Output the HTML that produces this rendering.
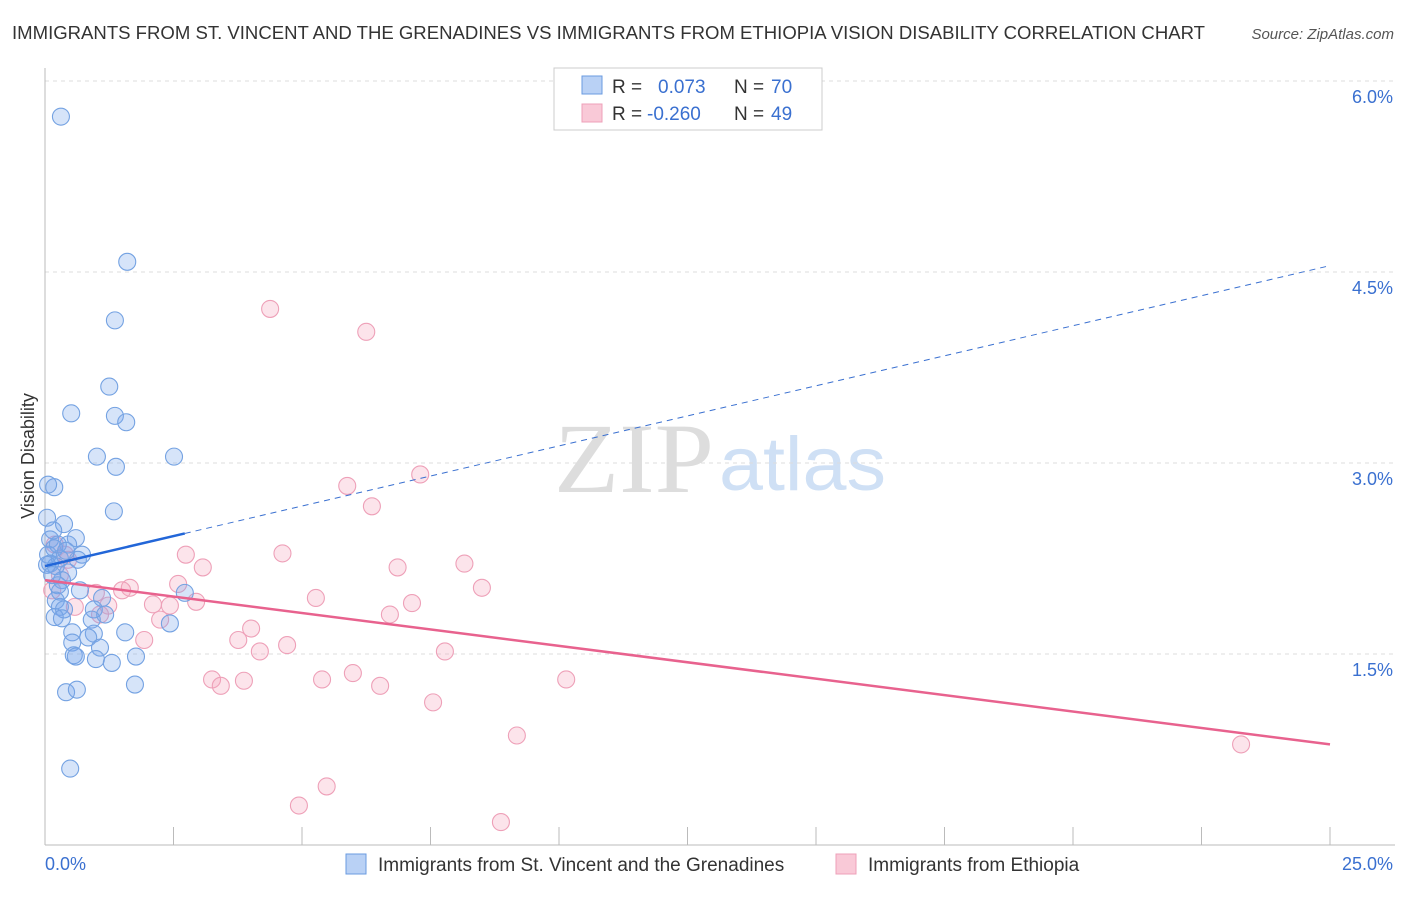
<!DOCTYPE html>
<html><head><meta charset="utf-8"><style>
body{margin:0;background:#fff;font-family:"Liberation Sans",sans-serif;}
svg text{font-family:"Liberation Sans",sans-serif;}
</style></head><body>
<svg id="c" width="1406" height="892">
<text x="12" y="39" font-size="18" fill="#333" textLength="1193" lengthAdjust="spacingAndGlyphs">IMMIGRANTS FROM ST. VINCENT AND THE GRENADINES VS IMMIGRANTS FROM ETHIOPIA VISION DISABILITY CORRELATION CHART</text>
<text x="1394" y="39" font-size="15" fill="#555" font-style="italic" text-anchor="end">Source: ZipAtlas.com</text>
<text x="714" y="492" font-size="100" fill="#ddd" text-anchor="end" textLength="160" lengthAdjust="spacingAndGlyphs" style="font-family:'Liberation Serif',serif">ZIP</text>
<text x="719" y="490" font-size="76" fill="#cfe0f5" textLength="167" lengthAdjust="spacingAndGlyphs">atlas</text>
<text transform="translate(34,456) rotate(-90)" font-size="18" fill="#333" text-anchor="middle">Vision Disability</text>
<g id="grid"></g><g id="marks"></g>
<g>
<rect x="554" y="68" width="268" height="62" fill="#fff" stroke="#ccc"/>
<rect x="582" y="76" width="20" height="18" fill="#b9d1f5" stroke="#6a9be0"/>
<rect x="582" y="104" width="20" height="18" fill="#f9c9d7" stroke="#eea0b8"/>
<text x="612" y="93" font-size="19" fill="#333">R = </text><text x="658" y="93" font-size="19" fill="#3a70d0">0.073</text>
<text x="734" y="93" font-size="19" fill="#333">N = </text><text x="771" y="93" font-size="19" fill="#3a70d0">70</text>
<text x="612" y="120" font-size="19" fill="#333">R = </text><text x="647" y="120" font-size="19" fill="#3a70d0">-0.260</text>
<text x="734" y="120" font-size="19" fill="#333">N = </text><text x="771" y="120" font-size="19" fill="#3a70d0">49</text>
</g>
<g>
<rect x="346" y="854" width="20" height="20" fill="#b9d1f5" stroke="#6a9be0"/>
<text x="378" y="871" font-size="19" fill="#333">Immigrants from St. Vincent and the Grenadines</text>
<rect x="836" y="854" width="20" height="20" fill="#f9c9d7" stroke="#eea0b8"/>
<text x="868" y="871" font-size="19" fill="#333">Immigrants from Ethiopia</text>
</g>
</svg>
<script>
const blueX=[0.31,1.60,1.36,1.25,0.51,1.36,1.58,1.01,2.51,1.38,0.18,0.06,1.34,0.04,0.37,0.16,0.60,0.10,0.45,0.18,0.72,0.06,0.29,0.64,0.10,0.21,0.45,0.33,0.25,0.68,0.29,0.21,1.11,2.72,0.95,0.29,0.37,1.17,0.19,0.33,0.91,2.43,0.53,0.95,1.56,0.84,0.53,1.07,0.56,0.60,0.99,1.77,1.30,1.75,0.41,0.62,0.49,0.04,0.14,0.25,0.41];
const blueY=[5.72,4.58,4.12,3.60,3.39,3.37,3.32,3.05,3.05,2.97,2.81,2.83,2.62,2.57,2.52,2.47,2.41,2.40,2.36,2.33,2.28,2.28,2.25,2.24,2.21,2.19,2.14,2.08,2.04,2.00,1.99,1.92,1.94,1.98,1.85,1.87,1.85,1.81,1.79,1.78,1.77,1.74,1.67,1.66,1.67,1.63,1.59,1.55,1.49,1.48,1.46,1.48,1.43,1.26,1.20,1.22,0.60,2.20,2.12,2.36,2.31];
const pinkX=[4.38,6.25,7.30,5.88,6.36,4.62,2.74,8.16,6.86,3.07,2.59,8.50,1.65,1.50,0.99,5.27,2.94,2.10,2.43,7.14,1.23,0.58,6.71,1.07,2.24,4.01,3.76,1.93,4.71,4.18,7.78,5.99,5.39,3.25,3.87,10.14,3.42,6.52,7.55,9.18,23.27,5.48,4.94,8.87,0.19,0.39,0.14,0.29,0.45];
const pinkY=[4.21,4.03,2.91,2.82,2.66,2.29,2.28,2.21,2.18,2.18,2.05,2.02,2.02,2.00,1.98,1.94,1.91,1.89,1.88,1.90,1.88,1.87,1.81,1.81,1.77,1.70,1.61,1.61,1.57,1.52,1.52,1.35,1.30,1.30,1.29,1.30,1.25,1.25,1.12,0.86,0.79,0.46,0.31,0.18,2.36,2.28,2.00,2.12,2.24];
const blueTrend=[2.19,4.55]; // y at x=0, x=25
const pinkTrend=[2.08,0.79];
const yTicks=[1.5,3.0,4.5,6.0];
const xTicks=[0,2.5,5,7.5,10,12.5,15,17.5,20,22.5,25];
const NS="http://www.w3.org/2000/svg";
const sx=v=>45+v/25*1285, sy=v=>845-v/1.5*191;
function mk(t,a,p){const e=document.createElementNS(NS,t);for(const k in a)e.setAttribute(k,a[k]);p.appendChild(e);return e;}
const grid=document.getElementById('grid'), marks=document.getElementById('marks');
yTicks.forEach(t=>{
 const l=mk('line',{x1:45,x2:1395,y1:sy(t),y2:sy(t),stroke:'#ddd','stroke-dasharray':'4,4'},grid);
 
 
 const tx=mk('text',{x:1393,y:sy(t)+22,'font-size':18,fill:'#3a70d0','text-anchor':'end'},grid);
 tx.textContent=t.toFixed(1)+'%';
 
 
});
mk('line',{x1:45,x2:45,y1:68,y2:845,stroke:'#bbb'},grid);
mk('line',{x1:45,x2:1395,y1:845,y2:845,stroke:'#bbb'},grid);
xTicks.forEach(t=>{
 const l=mk('line',{x1:sx(t),x2:sx(t),y1:827,y2:845,stroke:'#bbb'},grid);
 
 
});
const x0=mk('text',{x:45,y:870,'font-size':18,fill:'#3a70d0'},grid);x0.textContent='0.0%';


const x1=mk('text',{x:1393,y:870,'font-size':18,fill:'#3a70d0','text-anchor':'end'},grid);x1.textContent='25.0%';


pinkX.forEach((x,i)=>{
 const c=mk('circle',{cx:sx(x),cy:sy(pinkY[i]),r:8.5,fill:'rgba(245,165,190,0.3)',stroke:'#eea0b8','stroke-width':1.1},marks);
 
 
});
blueX.forEach((x,i)=>{
 const c=mk('circle',{cx:sx(x),cy:sy(blueY[i]),r:8.5,fill:'rgba(120,165,235,0.3)',stroke:'#74a2e2','stroke-width':1.1},marks);
 
 
});
const bAt=x=>blueTrend[0]+(blueTrend[1]-blueTrend[0])*x/25;
const pAt=x=>pinkTrend[0]+(pinkTrend[1]-pinkTrend[0])*x/25;
const bd=mk('line',{x1:sx(2.72),y1:sy(bAt(2.72)),x2:sx(25),y2:sy(bAt(25)),stroke:'#3a70d0','stroke-dasharray':'6,5','stroke-width':1},marks);


const bs=mk('line',{x1:sx(0),y1:sy(bAt(0)),x2:sx(2.72),y2:sy(bAt(2.72)),stroke:'#2266d8','stroke-width':2.5},marks);


const ps=mk('line',{x1:sx(0),y1:sy(pAt(0)),x2:sx(25),y2:sy(pAt(25)),stroke:'#e8628e','stroke-width':2.5},marks);


</script>
</body></html>
